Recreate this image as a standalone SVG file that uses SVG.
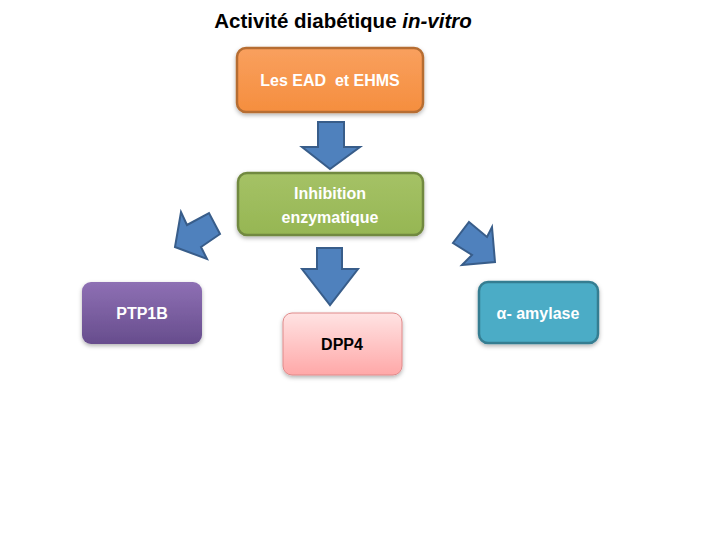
<svg xmlns="http://www.w3.org/2000/svg" width="720" height="540" viewBox="0 0 720 540">
<defs>
<linearGradient id="gOr" x1="0" y1="0" x2="0" y2="1"><stop offset="0" stop-color="#F9A05E"/><stop offset="1" stop-color="#F58E3E"/></linearGradient>
<linearGradient id="gGr" x1="0" y1="0" x2="0" y2="1"><stop offset="0" stop-color="#A5C266"/><stop offset="1" stop-color="#96B653"/></linearGradient>
<linearGradient id="gPu" x1="0" y1="0" x2="0" y2="1"><stop offset="0" stop-color="#8E70B4"/><stop offset="1" stop-color="#674D8D"/></linearGradient>
<linearGradient id="gPk" x1="0" y1="0" x2="0" y2="1"><stop offset="0" stop-color="#FFE3E3"/><stop offset="1" stop-color="#FFA8A8"/></linearGradient>
<filter id="sh" x="-10%" y="-10%" width="130%" height="140%"><feDropShadow dx="0" dy="2" stdDeviation="2" flood-color="#000" flood-opacity="0.3"/></filter>
</defs>
<style>
.t{font-family:"Liberation Sans",Arial,sans-serif;font-weight:bold;font-size:16px;text-anchor:middle;fill:#fff;white-space:pre}
.arr{fill:#4F81BD;stroke:#385D8A;stroke-width:2;stroke-linejoin:miter}
</style>
<rect width="720" height="540" fill="#fff"/>
<text x="343" y="28" font-family="Liberation Sans, Arial, sans-serif" font-weight="bold" font-size="20.5" text-anchor="middle" fill="#000">Activité diabétique <tspan font-style="italic">in-vitro</tspan></text>
<g id="connectors">
<polygon class="arr" points="318,122 344,122 344,147 360,147 330,169 302,147 318,147"/>
<polygon class="arr" points="317,248 342,248 342,269 358,269 330,305 302,269 317,269"/>
<polygon class="arr" points="175,247 181,212 187,225 209,213 220,234 201,247 207,259"/>
<polygon class="arr" points="469,222 487,237 492,227 495,262 462,265 472,255 453,243"/>
</g>
<g id="node-ead">
<rect x="237" y="48" width="186" height="64" rx="9" fill="url(#gOr)" stroke="#B66D31" stroke-width="2.5" filter="url(#sh)"/>
<text class="t" x="330" y="86" xml:space="preserve">Les EAD  et EHMS</text>
</g>
<g id="node-inhibition">
<rect x="238" y="173" width="185" height="62" rx="9" fill="url(#gGr)" stroke="#71893F" stroke-width="2.5" filter="url(#sh)"/>
<text class="t" x="330" y="199">Inhibition</text>
<text class="t" x="330" y="223">enzymatique</text>
</g>
<g id="node-ptp1b">
<rect x="82" y="282" width="120" height="62" rx="9" fill="url(#gPu)" filter="url(#sh)"/>
<text class="t" x="142" y="319">PTP1B</text>
</g>
<g id="node-dpp4">
<rect x="283" y="313" width="119" height="62" rx="9" fill="url(#gPk)" stroke="#E08A8A" stroke-width="1" filter="url(#sh)"/>
<text class="t" x="342" y="350" style="fill:#000">DPP4</text>
</g>
<g id="node-amylase">
<rect x="479" y="282" width="119" height="61" rx="9" fill="#4BACC6" stroke="#357D91" stroke-width="2.5" filter="url(#sh)"/>
<text class="t" x="538" y="319">α- amylase</text>
</g>
</svg>
